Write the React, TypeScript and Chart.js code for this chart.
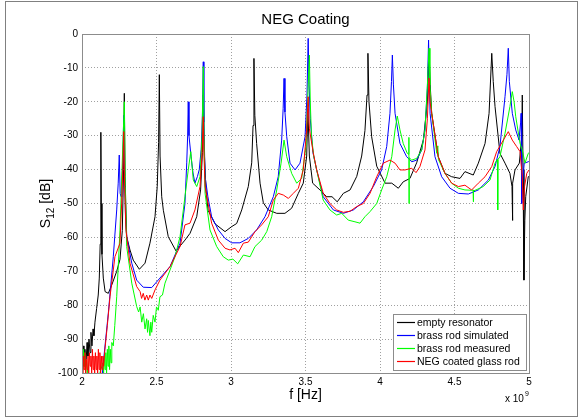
import { useEffect, useRef } from "react";
import { Chart, registerables } from "chart.js";

Chart.register(...registerables);

const TITLE = "NEG Coating";
const X_LABEL = "f [Hz]";
const Y_LABEL_MAIN = "S";
const Y_LABEL_SUB = "12";
const Y_LABEL_UNIT = " [dB]";
const X_EXP_BASE = "x 10";
const X_EXP_POW = "9";

const xTickValues = [2, 2.5, 3, 3.5, 4, 4.5, 5];
const xTickLabels = ["2", "2.5", "3", "3.5", "4", "4.5", "5"];
const yTickValues = [-100, -90, -80, -70, -60, -50, -40, -30, -20, -10, 0];
const yTickLabels = ["-100", "-90", "-80", "-70", "-60", "-50", "-40", "-30", "-20", "-10", "0"];

const seriesNames = ["empty resonator", "brass rod simulated", "brass rod measured", "NEG coated glass rod"];
const seriesColors = ["#000000", "#0000ff", "#00ff00", "#ff0000"];

// empty resonator (GHz, dB)
const emptyF = [2.000, 2.007, 2.013, 2.020, 2.027, 2.034, 2.040, 2.047, 2.054, 2.060, 2.067, 2.074, 2.080, 2.087, 2.098, 2.109, 2.116, 2.122, 2.1255, 2.1275, 2.1295, 2.134, 2.143, 2.155, 2.1765, 2.200, 2.233, 2.255, 2.2705, 2.279, 2.284, 2.289, 2.300, 2.322, 2.344, 2.385, 2.423, 2.456, 2.490, 2.505, 2.514, 2.519, 2.524, 2.535, 2.546, 2.579, 2.631, 2.691, 2.725, 2.770, 2.796, 2.808, 2.814, 2.820, 2.832, 2.846, 2.893, 2.960, 3.005, 3.038, 3.072, 3.116, 3.139, 3.148, 3.154, 3.160, 3.172, 3.195, 3.217, 3.250, 3.307, 3.362, 3.407, 3.452, 3.485, 3.508, 3.516, 3.526, 3.548, 3.597, 3.642, 3.678, 3.713, 3.754, 3.799, 3.844, 3.877, 3.899, 3.913, 3.919, 3.926, 3.944, 3.978, 4.034, 4.079, 4.123, 4.156, 4.201, 4.246, 4.291, 4.318, 4.329, 4.337, 4.347, 4.391, 4.436, 4.481, 4.537, 4.570, 4.626, 4.660, 4.705, 4.732, 4.750, 4.760, 4.772, 4.805, 4.839, 4.872, 4.886, 4.888, 4.892, 4.906, 4.935, 4.952, 4.955, 4.960, 4.966, 4.972, 4.978, 4.995, 5.000];
const emptyDb = [-96, -92, -98, -93, -97, -91, -95, -90, -94, -88, -92, -87, -89, -85, -81, -77, -72, -62, -48, -29, -50, -65, -72, -76, -76.5, -74, -70, -66.5, -58, -40, -17.5, -42, -59.8, -63.7, -66.7, -69.4, -67.6, -61.7, -53.9, -45, -32, -12, -36, -48, -52, -59.8, -64, -60.8, -58.8, -53.9, -46, -35, -18, -34, -46, -52, -56, -58.3, -56.8, -55.9, -51.9, -45, -38, -27, -7.2, -24, -32.3, -44, -49.8, -51.9, -52.9, -52.9, -51.4, -47, -44, -36, -22, -36, -44, -46, -48, -48, -49.5, -47, -46, -42, -36, -28.5, -18, -5.7, -20, -30.3, -39, -44, -44, -45.5, -43.6, -42.6, -38, -31.3, -20, -4.5, -15, -23.4, -36.2, -41.1, -42.1, -42.6, -40.6, -41.6, -38.1, -32.3, -23.4, -5.7, -14, -21.4, -35.2, -38.1, -41.1, -45, -55, -44, -40.1, -38.1, -30, -18, -40, -72.6, -55, -48, -42.1, -42];

// brass rod simulated
const simF = [2.135, 2.143, 2.1765, 2.210, 2.233, 2.243, 2.250, 2.256, 2.262, 2.268, 2.274, 2.280, 2.286, 2.292, 2.300, 2.334, 2.367, 2.411, 2.468, 2.523, 2.591, 2.658, 2.691, 2.703, 2.709, 2.713, 2.718, 2.732, 2.745, 2.758, 2.775, 2.787, 2.800, 2.808, 2.814, 2.818, 2.826, 2.845, 2.870, 2.915, 2.960, 3.005, 3.060, 3.116, 3.172, 3.228, 3.284, 3.317, 3.340, 3.350, 3.356, 3.362, 3.374, 3.396, 3.430, 3.463, 3.497, 3.510, 3.518, 3.524, 3.532, 3.550, 3.575, 3.619, 3.687, 3.754, 3.821, 3.888, 3.955, 4.011, 4.045, 4.067, 4.077, 4.083, 4.090, 4.101, 4.134, 4.179, 4.213, 4.246, 4.280, 4.302, 4.318, 4.326, 4.331, 4.336, 4.369, 4.414, 4.470, 4.526, 4.593, 4.660, 4.727, 4.772, 4.805, 4.839, 4.852, 4.861, 4.868, 4.888, 4.911, 4.933, 4.944, 4.947, 4.951, 4.957, 4.968, 4.995, 5.000];
const simDb = [-101, -97, -82.4, -65.7, -51.9, -44, -35.7, -47, -48, -44, -38, -24, -42, -54, -59.8, -67.6, -72.6, -74.7, -74.8, -72, -68.6, -61.7, -50, -38, -30, -20, -30, -36.2, -41, -44, -42, -40, -34, -24, -8.2, -26, -42, -48, -53.9, -57.8, -60.3, -61.6, -61.6, -60.3, -57.8, -53.9, -48, -42.1, -31.3, -22, -13.1, -23, -30.3, -38.1, -40.1, -38.1, -30.3, -18, -1.3, -15, -25, -35, -40.1, -48, -51.9, -52.9, -51.9, -49.5, -45, -40.1, -33.2, -23.4, -14, -6.2, -15, -23.4, -32.3, -36.2, -37.7, -37.2, -34.2, -28.3, -16, -1.8, -12, -23.4, -36.2, -42.1, -45.5, -47, -47.2, -46, -43.1, -39.1, -33.2, -18.5, -12, -4.2, -14, -23.4, -28.3, -31.3, -26, -23.4, -50, -44, -38.1, -37.7, -37.5];

// brass rod measured
const measF = [2.000, 2.005, 2.010, 2.015, 2.020, 2.025, 2.030, 2.040, 2.060, 2.080, 2.100, 2.120, 2.140, 2.145, 2.150, 2.155, 2.160, 2.165, 2.170, 2.175, 2.180, 2.185, 2.190, 2.195, 2.200, 2.210, 2.220, 2.233, 2.245, 2.255, 2.270, 2.284, 2.290, 2.300, 2.334, 2.367, 2.380, 2.390, 2.401, 2.412, 2.423, 2.434, 2.440, 2.445, 2.456, 2.462, 2.468, 2.478, 2.490, 2.500, 2.512, 2.523, 2.540, 2.557, 2.591, 2.624, 2.658, 2.691, 2.713, 2.730, 2.747, 2.770, 2.792, 2.806, 2.814, 2.819, 2.826, 2.859, 2.904, 2.948, 2.982, 3.013, 3.045, 3.083, 3.128, 3.161, 3.206, 3.240, 3.273, 3.307, 3.336, 3.356, 3.374, 3.407, 3.441, 3.474, 3.503, 3.514, 3.526, 3.532, 3.540, 3.555, 3.575, 3.619, 3.664, 3.709, 3.743, 3.787, 3.832, 3.866, 3.899, 3.933, 3.978, 4.011, 4.045, 4.079, 4.101, 4.116, 4.134, 4.156, 4.183, 4.193, 4.194, 4.195, 4.196, 4.213, 4.246, 4.280, 4.302, 4.318, 4.329, 4.335, 4.347, 4.381, 4.388, 4.392, 4.436, 4.481, 4.526, 4.570, 4.615, 4.625, 4.626, 4.628, 4.644, 4.693, 4.738, 4.772, 4.788, 4.790, 4.792, 4.805, 4.839, 4.872, 4.888, 4.900, 4.911, 4.940, 4.955, 4.973, 4.995, 5.000];
const measDb = [-95, -99, -93, -98, -94, -100, -96, -101, -101, -101, -101, -100, -97, -100, -95, -99, -94, -100, -93, -98, -92, -99, -93, -97, -91, -92, -86, -77.5, -67, -57.8, -38.1, -20, -45, -62.7, -73.5, -80.4, -82, -80.5, -85, -82.5, -87, -84, -88, -84.5, -89, -85, -88, -83, -85, -80.5, -81.5, -77.5, -77, -73.5, -69.6, -65.7, -59.8, -48, -40.1, -34.7, -43.1, -45, -42.1, -30, -9.6, -30, -47, -57.8, -62.7, -65.7, -66.7, -66.4, -67.8, -65.2, -65.7, -62.7, -60.8, -58.3, -53.9, -46, -38.1, -31.3, -36.2, -41.1, -44, -42.6, -33.2, -20, -6.2, -20, -30, -36, -40.1, -49, -51.9, -53.4, -52.9, -54.9, -55.4, -55.8, -53.9, -52.4, -50, -46, -42.1, -36.2, -28.3, -24.2, -28.3, -32.3, -35.2, -35.5, -30.5, -50, -36.5, -37.2, -36.7, -34.2, -28.3, -15, -4.2, -15, -23.4, -35.2, -33, -37, -41.1, -44, -45.5, -46, -46.1, -46, -49.5, -46.3, -46, -45, -43.1, -38.1, -37, -51.9, -37, -36.2, -29.3, -21.4, -17, -20, -24.4, -32.3, -34.2, -38.1, -35.2, -35];

// NEG coated glass rod
const negF = [2.000, 2.005, 2.010, 2.015, 2.020, 2.025, 2.030, 2.035, 2.040, 2.045, 2.050, 2.055, 2.060, 2.065, 2.070, 2.075, 2.080, 2.085, 2.090, 2.095, 2.100, 2.105, 2.110, 2.115, 2.120, 2.125, 2.130, 2.135, 2.140, 2.145, 2.154, 2.170, 2.188, 2.221, 2.255, 2.266, 2.274, 2.280, 2.286, 2.295, 2.322, 2.367, 2.390, 2.400, 2.411, 2.422, 2.434, 2.445, 2.456, 2.468, 2.490, 2.523, 2.591, 2.658, 2.691, 2.725, 2.758, 2.792, 2.806, 2.814, 2.819, 2.826, 2.870, 2.915, 2.960, 2.993, 3.027, 3.049, 3.083, 3.116, 3.161, 3.206, 3.250, 3.284, 3.317, 3.351, 3.385, 3.418, 3.452, 3.485, 3.508, 3.518, 3.526, 3.552, 3.575, 3.619, 3.664, 3.709, 3.754, 3.799, 3.844, 3.888, 3.933, 3.978, 4.022, 4.067, 4.101, 4.134, 4.168, 4.213, 4.242, 4.268, 4.302, 4.318, 4.329, 4.336, 4.347, 4.391, 4.436, 4.481, 4.526, 4.570, 4.615, 4.660, 4.705, 4.750, 4.783, 4.828, 4.861, 4.888, 4.917, 4.940, 4.955, 4.962, 4.970, 4.985, 5.000];
const negDb = [-96, -100, -95, -99, -94, -100, -96, -99, -95, -100, -94, -98, -95, -100, -93, -99, -95, -100, -94, -99, -95, -100, -93, -99, -94, -100, -95, -99, -95, -98, -93, -86, -77.5, -65.7, -61.7, -50, -40, -28.8, -45, -57.8, -67.6, -74.5, -76, -78, -76.5, -78.5, -77, -78.5, -77, -78, -75.5, -72.6, -68.6, -62.7, -56.3, -55.8, -51.9, -45, -35, -24.4, -36, -45, -55.8, -60.8, -63.2, -63.7, -63.2, -64.5, -61.7, -61.4, -58.3, -56.3, -53.9, -49, -47, -47.5, -48.5, -47, -45.5, -40.1, -28.3, -18.5, -28, -35, -40.1, -47, -50, -51.9, -52.6, -52.3, -50.9, -50, -47, -42.1, -38.1, -37.2, -38.1, -40.1, -40.1, -39.6, -40.9, -39.1, -34.2, -25, -13, -20, -23.4, -36.2, -41.1, -44, -45, -44.6, -46, -44, -42.1, -39.1, -34.7, -31.3, -28.8, -31.3, -33.2, -34.7, -42, -51.9, -45, -41.1, -40.1];

const FONT = '"Liberation Sans", Arial, Helvetica, sans-serif';

const toPoints = (f: number[], v: number[]) => f.map((x, i) => ({ x, y: v[i] }));

const decor = {
  id: "decor",
  beforeDraw(chart: any) {
    const { ctx, width, height } = chart;
    ctx.save();
    ctx.fillStyle = "#ffffff";
    ctx.fillRect(0, 0, width, height);
    ctx.restore();
  },
  afterDraw(chart: any) {
    const { ctx, chartArea: a } = chart;
    ctx.save();
    // axes box
    ctx.strokeStyle = "#8c8c8c";
    ctx.lineWidth = 1;
    ctx.strokeRect(Math.round(a.left) + 0.5, Math.round(a.top) + 0.5, Math.round(a.right - a.left), Math.round(a.bottom - a.top));

    const cx = (a.left + a.right) / 2;
    ctx.fillStyle = "#000";
    ctx.textAlign = "center";
    ctx.textBaseline = "alphabetic";
    ctx.font = `15px ${FONT}`;
    ctx.fillText(TITLE, cx, 24);
    ctx.font = `14px ${FONT}`;
    ctx.fillText(X_LABEL, cx, 399);

    // y label with subscript
    ctx.save();
    ctx.translate(50, (a.top + a.bottom) / 2);
    ctx.rotate(-Math.PI / 2);
    ctx.textAlign = "left";
    ctx.font = `14px ${FONT}`;
    const w1 = ctx.measureText(Y_LABEL_MAIN).width;
    const w3 = ctx.measureText(Y_LABEL_UNIT).width;
    ctx.font = `10px ${FONT}`;
    const w2 = ctx.measureText(Y_LABEL_SUB).width;
    let x0 = -(w1 + w2 + w3) / 2;
    ctx.font = `14px ${FONT}`;
    ctx.fillText(Y_LABEL_MAIN, x0, 0);
    ctx.font = `10px ${FONT}`;
    ctx.fillText(Y_LABEL_SUB, x0 + w1, 4);
    ctx.font = `14px ${FONT}`;
    ctx.fillText(Y_LABEL_UNIT, x0 + w1 + w2, 0);
    ctx.restore();

    // exponent
    ctx.textAlign = "left";
    ctx.font = `10px ${FONT}`;
    ctx.fillText(X_EXP_BASE, 505, 402);
    const wb = ctx.measureText(X_EXP_BASE).width;
    ctx.font = `7px ${FONT}`;
    ctx.fillText(X_EXP_POW, 505 + wb + 1, 396);

    // legend
    const lx = 393.5, ly = 314.5, lw = 133, lh = 56;
    ctx.fillStyle = "#fff";
    ctx.fillRect(lx, ly, lw, lh);
    ctx.strokeStyle = "#8c8c8c";
    ctx.lineWidth = 1;
    ctx.strokeRect(lx, ly, lw, lh);
    ctx.font = `10.5px ${FONT}`;
    ctx.textBaseline = "middle";
    chart.data.datasets.forEach((ds: any, i: number) => {
      const y = 322.5 + i * 13;
      ctx.strokeStyle = ds.borderColor;
      ctx.lineWidth = 1.2;
      ctx.beginPath();
      ctx.moveTo(397, y);
      ctx.lineTo(415, y);
      ctx.stroke();
      ctx.fillStyle = "#000";
      ctx.fillText(ds.label, 417, y + 0.5);
    });

    // outer frame
    ctx.strokeStyle = "#808080";
    ctx.lineWidth = 1;
    ctx.strokeRect(5.5, 1.5, 572, 415);
    ctx.restore();
  },
};

export default function App() {
  const ref = useRef<HTMLCanvasElement>(null);
  useEffect(() => {
    document.body.style.margin = "0";
    const series = [
      toPoints(emptyF, emptyDb),
      toPoints(simF, simDb),
      toPoints(measF, measDb),
      toPoints(negF, negDb),
    ];
    const chart = new Chart(ref.current as HTMLCanvasElement, {
      type: "line",
      data: {
        datasets: series.map((data, i) => ({
          label: seriesNames[i],
          data,
          borderColor: seriesColors[i],
          backgroundColor: seriesColors[i],
          borderWidth: 1,
          pointRadius: 0,
          fill: false,
          tension: 0,
          order: 4 - i,
        })),
      },
      options: {
        responsive: false,
        animation: false,
        parsing: false as any,
        normalized: true,
        layout: { padding: { left: 0, right: 52, top: 34, bottom: 0 } },
        plugins: { legend: { display: false }, title: { display: false }, tooltip: { enabled: false } },
        scales: {
          x: {
            type: "linear",
            min: 2,
            max: 5,
            afterFit: (s: any) => { s.height = 45; },
            afterBuildTicks: (s: any) => { s.ticks = xTickValues.map((value) => ({ value })); },
            ticks: {
              autoSkip: false,
              maxRotation: 0,
              padding: 3,
              color: "#000",
              font: { family: FONT, size: 10 },
              callback: (v: any) => xTickLabels[xTickValues.indexOf(Number(v))] ?? "",
            },
            grid: { color: "#a0a0a0", lineWidth: 1, drawTicks: false },
            border: { display: false, dash: [1, 2] },
          },
          y: {
            type: "linear",
            min: -100,
            max: 0,
            afterFit: (s: any) => { s.width = 82; },
            afterBuildTicks: (s: any) => { s.ticks = yTickValues.map((value) => ({ value })); },
            ticks: {
              autoSkip: false,
              padding: 4,
              color: "#000",
              font: { family: FONT, size: 10 },
              callback: (v: any) => yTickLabels[yTickValues.indexOf(Number(v))] ?? "",
            },
            grid: { color: "#a0a0a0", lineWidth: 1, drawTicks: false },
            border: { display: false, dash: [1, 2] },
          },
        },
      },
      plugins: [decor],
    });
    return () => chart.destroy();
  }, []);
  return (
    <div style={{ width: 581, height: 418 }}>
      <canvas ref={ref} width={581} height={418} style={{ display: "block" }} />
    </div>
  );
}
